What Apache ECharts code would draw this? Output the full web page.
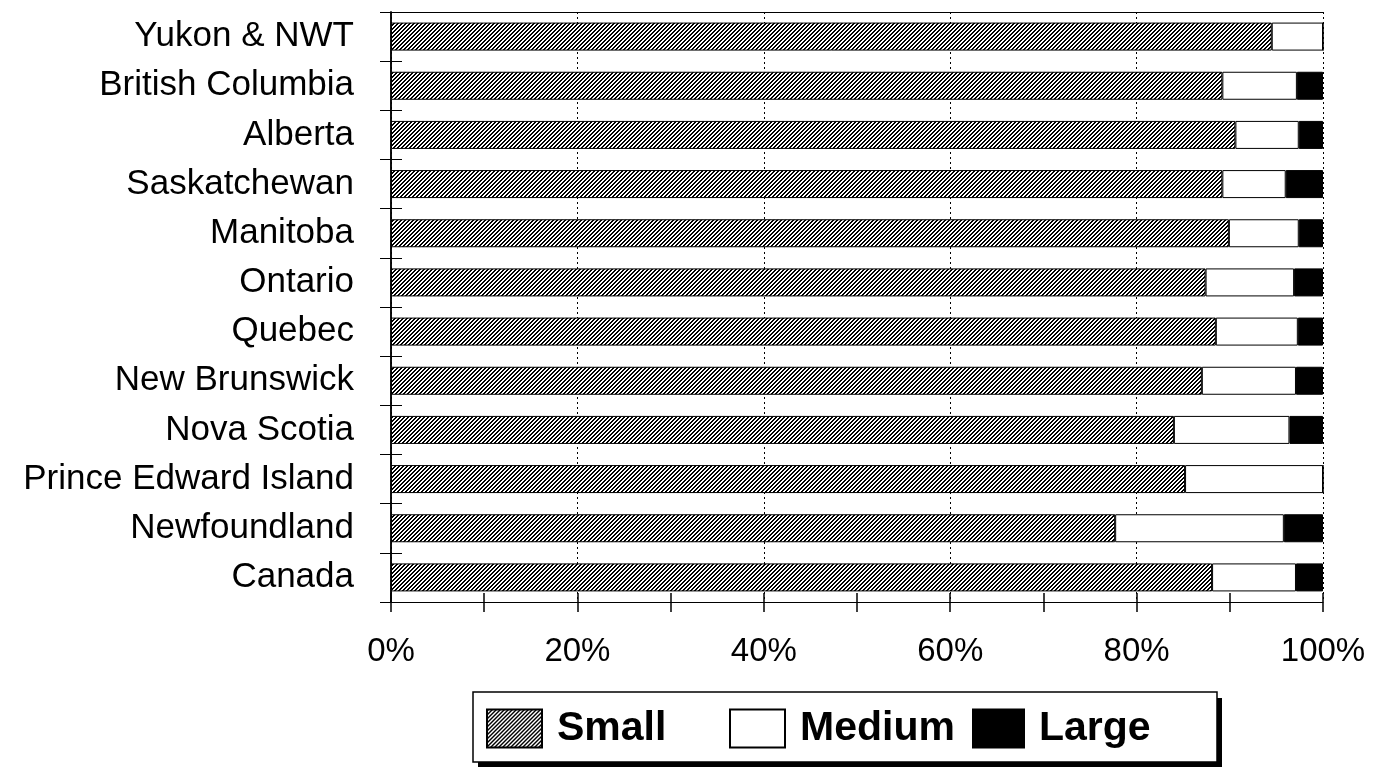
<!DOCTYPE html>
<html>
<head>
<meta charset="utf-8">
<script src="https://cdn.jsdelivr.net/npm/echarts@6/dist/echarts.min.js"></script>
<style>
html,body{margin:0;padding:0;background:#fff;}
#chart{width:1384px;height:767px;}
</style>
</head>
<body>
<div id="chart"></div>
<script>
const categories = ['Yukon & NWT','British Columbia','Alberta','Saskatchewan','Manitoba','Ontario','Quebec','New Brunswick','Nova Scotia','Prince Edward Island','Newfoundland','Canada'];
const small  = [94.5, 89.2, 90.6, 89.2, 89.9, 87.4, 88.5, 87.0, 84.0, 85.2, 77.7, 88.1];
const medium = [5.5, 8.0, 6.8, 6.8, 7.5, 9.5, 8.8, 10.1, 12.4, 14.8, 18.1, 9.0];
const large  = [0, 2.8, 2.6, 4.0, 2.6, 3.1, 2.7, 2.9, 3.6, 0, 4.2, 2.9];
const seriesNames = ['Small','Medium','Large'];
const xTickLabels = {0:'0%',20:'20%',40:'40%',60:'60%',80:'80%',100:'100%'};

const FONT = '"Liberation Sans", Arial, sans-serif';

function hatch(){
  const c = document.createElement('canvas');
  const n = 4;
  c.width = n; c.height = n;
  const ctx = c.getContext('2d');
  const img = ctx.createImageData(n, n);
  for (let y = 0; y < n; y++) for (let x = 0; x < n; x++) {
    const i = (y*n + x) * 4;
    const on = ((x + y) % n) < 2;
    const v = on ? 0 : 255;
    img.data[i]=v; img.data[i+1]=v; img.data[i+2]=v; img.data[i+3]=255;
  }
  ctx.putImageData(img, 0, 0);
  return c;
}
const hatchPattern = {image: hatch(), repeat: 'repeat'};

const chart = echarts.init(document.getElementById('chart'), null, {renderer:'canvas'});
const barStyle = [
  {color: hatchPattern, borderColor:'#000', borderWidth:1},
  {color: '#fff', borderColor:'#000', borderWidth:1},
  {color: '#000', borderColor:'#000', borderWidth:1}
];
const values = [small, medium, large];

const legendLefts = [486, 729, 972];
const legends = seriesNames.map((name, i) => ({
  data: [name],
  left: legendLefts[i],
  top: 708,
  padding: 0,
  itemWidth: i === 2 ? 51 : 55,
  itemHeight: 38,
  selectedMode: false,
  icon: 'rect',
  textStyle: {fontFamily: FONT, fontSize: 41, fontWeight: 'bold', color: '#000', padding: [0,0,0,10]}
}));

chart.setOption({
  animation: false,
  backgroundColor: '#fff',
  grid: {left: 391, right: 61, top: 12, bottom: 165, containLabel: false},
  legend: legends,
  graphic: [
    {type:'rect', shape:{x:478, y:698, width:744, height:69}, style:{fill:'#000'}, z:0},
    {type:'rect', shape:{x:473, y:692, width:744, height:70}, style:{fill:'#fff', stroke:'#000', lineWidth:1.5}, z:1}
  ],
  xAxis: [
    {type:'value', min:0, max:100, interval:10, position:'bottom',
     axisLine:{show:true, lineStyle:{color:'#000', width:1}},
     axisTick:{show:true, inside:false, length:10, lineStyle:{color:'#000', width:1.5}},
     axisLabel:{show:true, margin:33, fontFamily:FONT, fontSize:33, color:'#000',
       formatter: v => (xTickLabels[v] !== undefined ? xTickLabels[v] : '')},
     splitLine:{show:false}},
    {type:'value', min:0, max:100, interval:10, position:'bottom',
     axisLine:{show:false},
     axisTick:{show:true, inside:true, length:9, lineStyle:{color:'#000', width:1.5}},
     axisLabel:{show:false}, splitLine:{show:false}},
    {type:'value', min:0, max:100, interval:20, position:'top',
     axisLine:{show:true, lineStyle:{color:'#000', width:1}},
     axisTick:{show:false}, axisLabel:{show:false},
     splitLine:{show:true, lineStyle:{color:'#000', width:1, type:[2,3]}}}
  ],
  yAxis: [
    {type:'category', data:categories, inverse:true, position:'left',
     axisLine:{show:true, lineStyle:{color:'#000', width:1.5}},
     axisTick:{show:true, inside:false, length:11, lineStyle:{color:'#000', width:1}},
     axisLabel:{show:true, margin:37, fontFamily:FONT, fontSize:35, color:'#000'},
     splitLine:{show:false}},
    {type:'category', data:categories, inverse:true, position:'left', offset:0,
     axisLine:{show:false},
     axisTick:{show:true, inside:true, length:11, lineStyle:{color:'#000', width:1}},
     axisLabel:{show:false}, splitLine:{show:false}},
    {type:'category', data:categories, inverse:true, position:'right',
     axisLine:{show:true, lineStyle:{color:'#000', width:1.5}},
     axisTick:{show:false}, axisLabel:{show:false}, splitLine:{show:false}}
  ],
  series: seriesNames.map((name, i) => ({
    name: name,
    type: 'bar',
    stack: 'total',
    xAxisIndex: 0,
    yAxisIndex: 0,
    barWidth: 28,
    itemStyle: barStyle[i],
    data: values[i],
    z: 3
  }))
});
</script>
</body>
</html>
